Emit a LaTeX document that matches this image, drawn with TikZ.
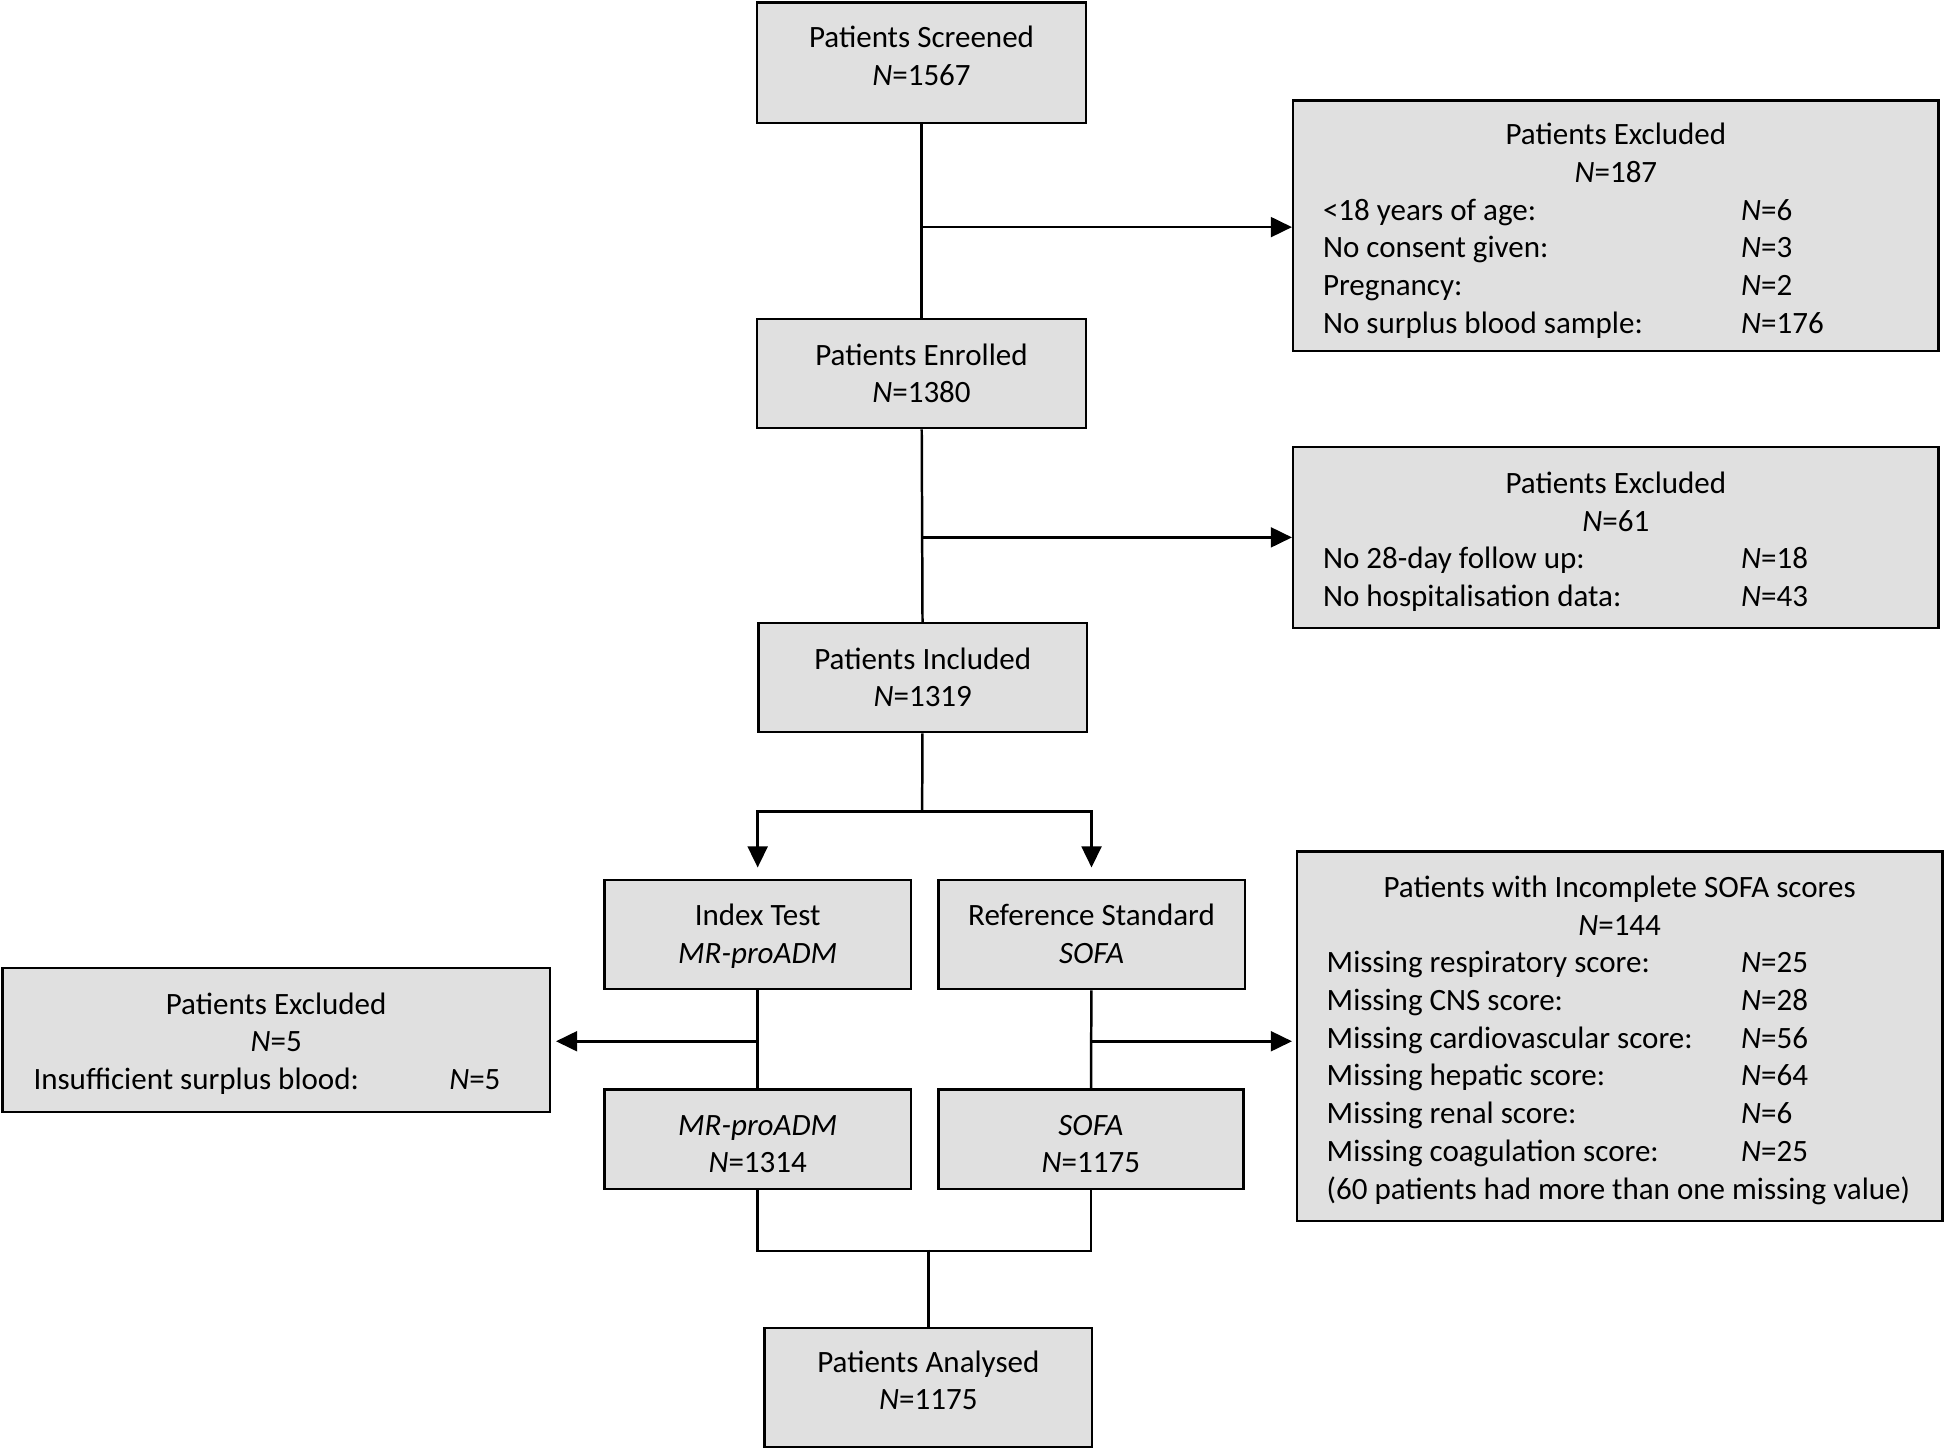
\documentclass[tikz,border=0pt]{standalone}
\usepackage{fontspec}
\setmainfont{Carlito}
\usetikzlibrary{arrows.meta}
\definecolor{boxgray}{RGB}{224,224,224}
\newcommand{\shiftv}[2]{\raisebox{#1}[\height][\depth]{#2}}
\begin{document}
\begin{tikzpicture}[x=0.5pt,y=-0.5pt,
  box/.style={draw, line width=1pt, fill=boxgray, inner sep=0pt, align=center,
    font=\fontsize{12.5}{15}\selectfont},
  listbox/.style={box, font=\fontsize{12.5}{15.2}\selectfont},
  arr/.style={-{Triangle[length=8.5pt,width=8pt]}, line width=1pt},
  ln/.style={line width=1pt}]
\useasboundingbox (0,0) rectangle (1568,1170);

\node[box, minimum width=132.5pt, minimum height=48.5pt] (scr) at (742.5,50.5)
  {\shiftv{1.5pt}{\begin{tabular}{@{}c@{}}Patients Screened\\\textit{N}=1567\end{tabular}}};
\node[listbox, minimum width=260pt, minimum height=101pt] (ex1) at (1302,182)
  {\shiftv{-2.25pt}{\begin{tabular}{@{}p{168.5pt}@{}p{67.5pt}@{}}
   \multicolumn{2}{@{}c@{}}{Patients Excluded}\\
   \multicolumn{2}{@{}c@{}}{\textit{N}=187}\\
   <18 years of age: & \textit{N}=6\\
   No consent given: & \textit{N}=3\\
   Pregnancy: & \textit{N}=2\\
   No surplus blood sample: & \textit{N}=176
   \end{tabular}}};
\node[box, minimum width=132.5pt, minimum height=44pt] (enr) at (742.5,301)
  {Patients Enrolled\\\textit{N}=1380};
\node[listbox, minimum width=260pt, minimum height=73pt] (ex2) at (1302,433)
  {\shiftv{-2pt}{\begin{tabular}{@{}p{168.5pt}@{}p{67.5pt}@{}}
   \multicolumn{2}{@{}c@{}}{Patients Excluded}\\
   \multicolumn{2}{@{}c@{}}{\textit{N}=61}\\
   No 28-day follow up: & \textit{N}=18\\
   No hospitalisation data: & \textit{N}=43
   \end{tabular}}};
\node[box, minimum width=132.5pt, minimum height=44pt] (inc) at (743.5,546)
  {Patients Included\\\textit{N}=1319};
\node[box, minimum width=123.5pt, minimum height=44pt] (idx) at (610.5,753)
  {\shiftv{-1pt}{\begin{tabular}{@{}c@{}}Index Test\\\textit{MR-proADM}\end{tabular}}};
\node[box, minimum width=123.5pt, minimum height=44pt] (ref) at (879.5,753)
  {\shiftv{-1pt}{\begin{tabular}{@{}c@{}}Reference Standard\\\textit{SOFA}\end{tabular}}};
\node[listbox, minimum width=220.5pt, minimum height=58pt] (ex3) at (222.5,838)
  {\shiftv{-1.75pt}{\begin{tabular}{@{}p{167.5pt}@{}p{28pt}@{}}
   \multicolumn{2}{@{}c@{}}{Patients Excluded}\\
   \multicolumn{2}{@{}c@{}}{\textit{N}=5}\\
   Insufficient surplus blood: & \textit{N}=5
   \end{tabular}}};
\node[listbox, minimum width=260pt, minimum height=149pt] (ex4) at (1305,835)
  {\shiftv{-1.75pt}{\begin{tabular}{@{}p{167pt}@{}p{69pt}@{}}
   \multicolumn{2}{@{}c@{}}{Patients with Incomplete SOFA scores}\\
   \multicolumn{2}{@{}c@{}}{\textit{N}=144}\\
   Missing respiratory score: & \textit{N}=25\\
   Missing CNS score: & \textit{N}=28\\
   Missing cardiovascular score: & \textit{N}=56\\
   Missing hepatic score: & \textit{N}=64\\
   Missing renal score: & \textit{N}=6\\
   Missing coagulation score: & \textit{N}=25\\
   \multicolumn{2}{@{}l@{}}{(60 patients had more than one missing value)}
   \end{tabular}}};
\node[box, minimum width=123.5pt, minimum height=40pt] (mr) at (610.5,918)
  {\shiftv{-3pt}{\begin{tabular}{@{}c@{}}\textit{MR-proADM}\\\textit{N}=1314\end{tabular}}};
\node[box, minimum width=123pt, minimum height=40pt] (sofa) at (879,918)
  {\shiftv{-3pt}{\begin{tabular}{@{}c@{}}\textit{SOFA}\\\textit{N}=1175\end{tabular}}};
\node[box, minimum width=132pt, minimum height=48pt] (ana) at (748,1118)
  {\shiftv{1.5pt}{\begin{tabular}{@{}c@{}}Patients Analysed\\\textit{N}=1175\end{tabular}}};

% connectors
\coordinate (j1) at (743,183);
\coordinate (j2) at (743,433);
\coordinate (split) at (743,654);
\coordinate (j3) at (610.5,839);
\coordinate (j4) at (879.5,839);
\coordinate (j5) at (748,1007);

\draw[ln] (scr) -- (enr);
\draw[arr] (j1) -- (j1 -| ex1.west);
\draw[ln] (enr) -- (inc);
\draw[arr] (j2) -- (j2 -| ex2.west);
\draw[ln] (inc) -- (split);
\draw[arr, shorten >=4.5pt] (split) -| (idx);
\draw[arr, shorten >=4.5pt] (split) -| (ref);
\draw[ln] (idx) -- (mr);
\draw[ln] (ref) -- (sofa);
\draw[arr, shorten >=2pt] (j3) -- (j3 -| ex3.east);
\draw[arr, shorten >=1.5pt] (j4) -- (j4 -| ex4.west);
\draw[ln] (mr.south) -- ++(0,49) -| (sofa.south);
\draw[ln] (j5) -- (ana);
\end{tikzpicture}
\end{document}
